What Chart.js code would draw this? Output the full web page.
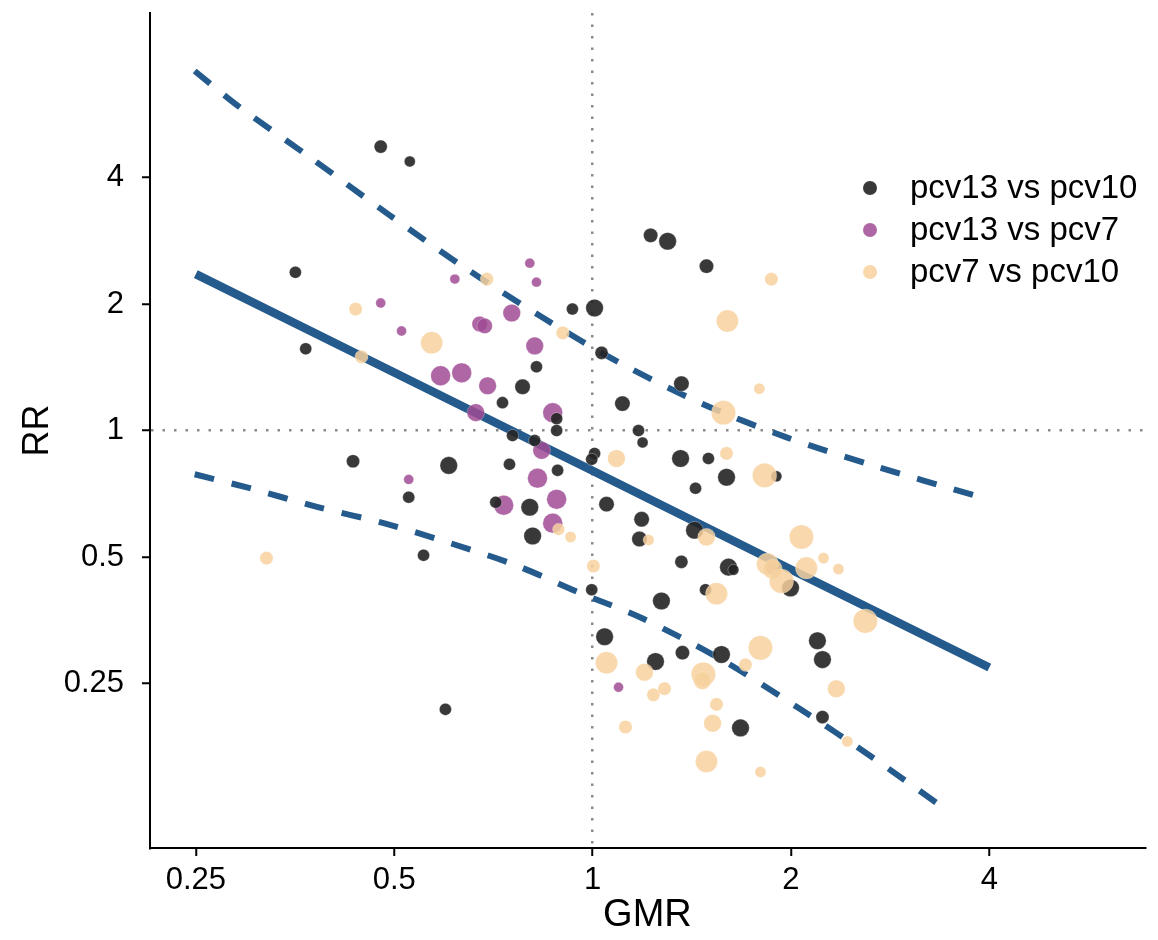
<!DOCTYPE html>
<html>
<head>
<meta charset="utf-8">
<script src="https://cdn.jsdelivr.net/npm/chart.js@4.4.0/dist/chart.umd.min.js"></script>
<style>
  body { margin: 0; background: #fff; }
  #wrap { width: 1158px; height: 940px; position: relative; }
</style>
</head>
<body>
<div id="wrap"><canvas id="chart"></canvas></div>
<script>
// --- DATA ---
const xTicks = [0.25, 0.5, 1, 2, 4];
const yTicks = [0.25, 0.5, 1, 2, 4];
const seriesNames = ["pcv13 vs pcv10", "pcv13 vs pcv7", "pcv7 vs pcv10"];

// pcv13 vs pcv10
const gmr10 = [0.477,0.528,0.354,0.367,0.433,0.526,0.554,0.598,0.605,0.932,1.007,1.032,0.822,0.783,1.110,0.730,0.882,0.882,1.174,1.191,0.756,0.817,1.007,0.997,0.748,0.885,1.050,1.187,1.178,0.713,0.803,0.811,0.997,1.225,1.300,1.489,1.364,1.360,1.499,1.597,1.901,1.433,1.428,1.364,1.608,1.636,1.875,1.997,1.484,1.272,1.043,2.194,2.233,1.246,1.369,1.569,2.233,1.677];
const rr10 = [4.74,4.37,2.38,1.565,0.845,0.694,0.505,0.217,0.826,1.946,1.957,1.531,1.418,1.271,1.159,1.165,1.067,1.0,1.0,0.937,0.973,0.947,0.882,0.854,0.831,0.804,0.668,0.615,0.552,0.675,0.657,0.561,0.418,2.914,2.821,2.461,1.293,0.858,0.858,0.774,0.778,0.729,0.579,0.487,0.473,0.466,0.471,0.422,0.418,0.393,0.323,0.316,0.285,0.282,0.296,0.293,0.208,0.196];
const size10 = [6,5,5.5,5.5,6,5.5,5.5,5.5,8,5.5,8,6,5.5,7,7,5.5,5.5,5.5,5.5,5,5.5,5.5,5.5,5.5,5.5,5.5,7,7,7,5.5,8,8,5.5,6.5,8,6.5,7,8,5.5,8,5,5.5,8,6,8,5,6,8,5.5,8,8,8,8,8,6.5,8,6,8];

// pcv13 vs pcv7
const gmr7 = [0.803,0.618,0.822,0.477,0.513,0.754,0.674,0.686,0.817,0.588,0.633,0.693,0.665,0.870,0.837,0.825,0.526,0.733,0.882,0.870,1.095];
const rr7 = [2.502,2.293,2.255,2.011,1.726,1.904,1.793,1.774,1.590,1.350,1.372,1.278,1.103,1.103,0.897,0.770,0.765,0.664,0.686,0.602,0.245];
const size7 = [4.5,4.5,4.5,4.5,4.5,8,7,7,8,9,9,8,8,9,8,9,4.5,9,9,9,4.5];

// pcv7 vs pcv10
const gmrP = [0.691,0.437,0.570,0.901,0.446,0.320,1.087,0.888,0.926,1.003,1.868,1.602,1.791,1.580,1.597,1.824,1.216,1.489,2.075,2.241,2.361,1.843,1.875,2.111,1.935,1.542,2.594,1.050,1.798,1.706,1.199,1.473,1.468,1.237,1.286,2.344,1.542,1.122,1.521,2.436,1.489,1.798];
const rrP = [2.293,1.946,1.617,1.707,1.498,0.497,0.858,0.582,0.558,0.476,2.293,1.823,1.258,1.103,0.882,0.782,0.549,0.558,0.558,0.497,0.468,0.481,0.468,0.471,0.438,0.409,0.352,0.280,0.304,0.277,0.266,0.263,0.254,0.235,0.243,0.243,0.223,0.197,0.201,0.182,0.163,0.154];
const sizeP = [6,6,10,6,6,6,8,5.5,5,6,6,10,5,11,6,11,5,8,11,5,5,10,9,10,11,10,11,10,11,6,8,11,8,6,6,8,6,6,8,5,10,5];

// fitted line and band
const fitGmr = [0.25, 0.5, 1, 2, 4];
const fitRr = [2.356, 1.374, 0.802, 0.467, 0.273];
const upperGmr = [0.249,0.291,0.377,0.490,0.635,0.834,1.099,1.463,1.97,2.66,3.80];
const upperRr = [7.17,5.89,4.41,3.27,2.46,1.87,1.45,1.16,0.963,0.826,0.701];
const lowerGmr = [0.249,0.302,0.383,0.482,0.607,0.762,0.956,1.187,1.569,2.06,2.67,3.42];
const lowerRr = [0.787,0.729,0.657,0.602,0.540,0.479,0.411,0.358,0.285,0.218,0.166,0.126];

// --- HELPERS ---
const bubbles = (xs, ys, rs) => xs.map((x, i) => ({ x: x, y: ys[i], r: rs[i] * 1.1 }));
const pts = (xs, ys) => xs.map((x, i) => ({ x: x, y: ys[i] }));
const fmt = v => String(v);

const colors = ["rgba(35,35,35,0.9)", "rgba(160,75,148,0.85)", "rgba(247,209,158,0.85)"];
const lineBlue = "#245a8c";
const FONT = "'Liberation Sans', Arial, Helvetica, sans-serif";

// legend drawn inside the plot, top right
const insideLegend = {
    id: "insideLegend",
    afterDraw(chart) {
        const ctx = chart.ctx;
        ctx.save();
        ctx.font = "33px " + FONT;
        ctx.textBaseline = "middle";
        seriesNames.forEach((name, i) => {
            const y = 188 + i * 42;
            ctx.beginPath();
            ctx.arc(870, y, 7, 0, Math.PI * 2);
            ctx.fillStyle = colors[i];
            ctx.fill();
            ctx.fillStyle = "#000";
            ctx.fillText(name, 910, y + 1);
        });
        ctx.restore();
    }
};

const dotGrid = ctx => (ctx.tick && ctx.tick.value === 1) ? "#8a8a8a" : "rgba(0,0,0,0)";
const noPad = s => { s.paddingTop = 0; s.paddingBottom = 0; s.paddingLeft = 0; s.paddingRight = 0; };

new Chart(document.getElementById("chart").getContext("2d"), {
    type: "bubble",
    data: {
        datasets: [
            {
                label: seriesNames[1],
                data: bubbles(gmr7, rr7, size7),
                backgroundColor: colors[1],
                borderColor: "rgba(255,255,255,0.25)",
                borderWidth: 1,
                order: 3
            },
            {
                label: seriesNames[0],
                data: bubbles(gmr10, rr10, size10),
                backgroundColor: colors[0],
                borderColor: "rgba(255,255,255,0.3)",
                borderWidth: 1,
                order: 2
            },
            {
                label: seriesNames[2],
                data: bubbles(gmrP, rrP, sizeP),
                backgroundColor: colors[2],
                borderColor: "rgba(255,255,255,0.2)",
                borderWidth: 1,
                order: 1
            },
            {
                type: "line",
                label: "fit",
                data: pts(fitGmr, fitRr),
                borderColor: lineBlue,
                borderWidth: 8.5,
                pointRadius: 0,
                fill: false,
                order: 4
            },
            {
                type: "line",
                label: "upper",
                data: pts(upperGmr, upperRr),
                borderColor: lineBlue,
                borderWidth: 6,
                borderDash: [20, 18],
                pointRadius: 0,
                tension: 0.3,
                fill: false,
                order: 4
            },
            {
                type: "line",
                label: "lower",
                data: pts(lowerGmr, lowerRr),
                borderColor: lineBlue,
                borderWidth: 6,
                borderDash: [20, 18],
                pointRadius: 0,
                tension: 0.3,
                fill: false,
                order: 4
            }
        ]
    },
    options: {
        responsive: true,
        maintainAspectRatio: false,
        animation: false,
        layout: { padding: { top: 10, right: 8, left: 0, bottom: 0 } },
        plugins: {
            legend: { display: false },
            tooltip: { enabled: false }
        },
        scales: {
            x: {
                type: "logarithmic",
                min: 0.213,
                max: 6.89,
                afterBuildTicks: s => { s.ticks = xTicks.map(v => ({ value: v })); },
                afterFit: s => { s.height = 92; noPad(s); },
                border: { color: "#000", width: 2, dash: [2.5, 9] },
                grid: {
                    color: dotGrid,
                    lineWidth: 2.5,
                    drawTicks: true,
                    tickLength: 8,
                    tickColor: "#000",
                    tickWidth: 2,
                    tickBorderDash: []
                },
                ticks: {
                    color: "#000",
                    font: { family: FONT, size: 31 },
                    padding: 6,
                    maxRotation: 0,
                    autoSkip: false,
                    callback: fmt
                },
                title: {
                    display: true,
                    text: "GMR",
                    color: "#000",
                    font: { family: FONT, size: 38 },
                    padding: { top: 0, bottom: 2 }
                }
            },
            y: {
                type: "logarithmic",
                min: 0.1015,
                max: 9.85,
                afterBuildTicks: s => { s.ticks = yTicks.map(v => ({ value: v })); },
                afterFit: s => { s.width = 150; noPad(s); },
                border: { color: "#000", width: 2, dash: [2.5, 9] },
                grid: {
                    color: dotGrid,
                    lineWidth: 2.5,
                    drawTicks: true,
                    tickLength: 8,
                    tickColor: "#000",
                    tickWidth: 2,
                    tickBorderDash: []
                },
                ticks: {
                    color: "#000",
                    font: { family: FONT, size: 31 },
                    padding: 18,
                    autoSkip: false,
                    callback: fmt
                },
                title: {
                    display: true,
                    text: "RR",
                    color: "#000",
                    font: { family: FONT, size: 36 },
                    padding: { top: 16, bottom: 0 }
                }
            }
        }
    },
    plugins: [insideLegend]
});
</script>
</body>
</html>
